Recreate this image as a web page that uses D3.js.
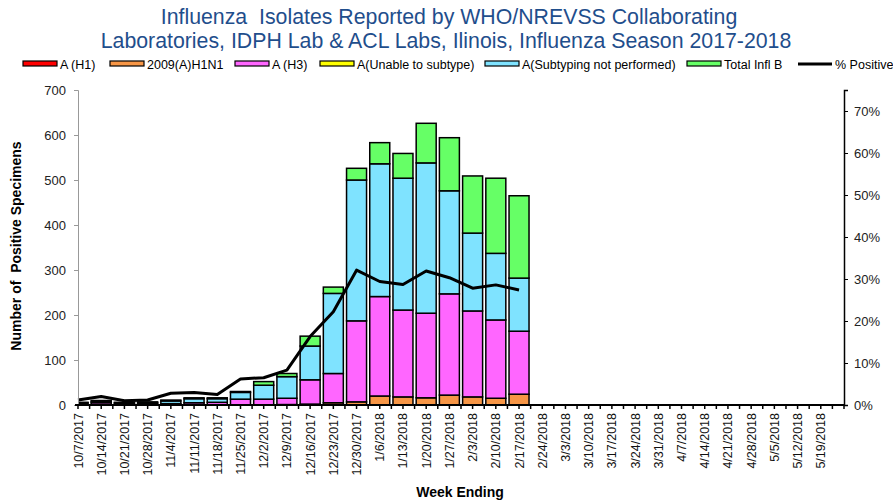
<!DOCTYPE html>
<html>
<head>
<meta charset="utf-8">
<script src="https://cdn.jsdelivr.net/npm/d3@7"></script>
<style>
  body { margin: 0; background: #fff; }
  text { font-family: "Liberation Sans", Arial, sans-serif; white-space: pre; }
</style>
</head>
<body>
<div id="chart"></div>
<script>
// week ending labels
var weeks = ["10/7/2017","10/14/2017","10/21/2017","10/28/2017","11/4/2017","11/11/2017","11/18/2017",
  "11/25/2017","12/2/2017","12/9/2017","12/16/2017","12/23/2017","12/30/2017","1/6/2018","1/13/2018",
  "1/20/2018","1/27/2018","2/3/2018","2/10/2018","2/17/2018","2/24/2018","3/3/2018","3/10/2018",
  "3/17/2018","3/24/2018","3/31/2018","4/7/2018","4/14/2018","4/21/2018","4/28/2018","5/5/2018",
  "5/12/2018","5/19/2018"];

// counts per week (only weeks reported so far)
var aH1       = [0,0,0,0,0,0,0,0,0,0,0,0,0,0,0,0,0,0,0,0];
var h1n1      = [0,0,0,0,0,0,0,0,0,1,2,5,7,20,18,16,22,18,15,24];
var aH3       = [2,5,2,2,3,5,6,13,13,14,54,65,180,221,193,188,225,191,174,140];
var unable    = [0,0,0,0,0,0,0,0,0,0,0,0,0,0,0,0,0,0,0,0];
var notPerf   = [3,3,3,3,6,9,8,15,31,48,75,178,313,295,293,334,229,173,148,118];
var inflB     = [1,2,1,2,2,2,2,2,8,7,22,14,26,47,55,88,118,127,167,183];
var pctPos    = [1.2,2.0,1.0,1.2,2.8,3.0,2.5,6.2,6.5,8.3,16.3,22.2,32.1,29.4,28.7,31.9,30.3,27.8,28.6,27.4];

var seriesNames  = ["A (H1)","2009(A)H1N1","A (H3)","A(Unable to subtype)","A(Subtyping not performed)","Total Infl B"];
var seriesColors = ["#ff0000","#f79646","#ff66ff","#ffff00","#7fe3ff","#66ff66"];
var seriesVals   = [aH1, h1n1, aH3, unable, notPerf, inflB];

var W = 893, H = 502;
var plotL = 78, plotR = 844, plotT = 90, plotB = 405;

var svg = d3.select("#chart").append("svg")
    .attr("width", W).attr("height", H);

// title
var title = svg.append("text")
    .attr("text-anchor", "middle")
    .attr("xml:space", "preserve")
    .style("font-size", "21.3px")
    .style("fill", "#1f4e8c");
title.append("tspan").attr("x", 449).attr("y", 24).text("Influenza  Isolates Reported by WHO/NREVSS Collaborating");
title.append("tspan").attr("x", 446).attr("y", 48).text("Laboratories, IDPH Lab & ACL Labs, Ilinois, Influenza Season 2017-2018");

// scales
var x = d3.scaleLinear().domain([0, weeks.length]).range([plotL, plotR]);
var y = d3.scaleLinear().domain([0, 700]).range([plotB, plotT]);
var y2 = d3.scaleLinear().domain([0, 75]).range([plotB, plotT]);

// stack the data
var rows = pctPos.map(function(p, i) {
  var r = {i: i};
  seriesNames.forEach(function(n, k) { r[n] = seriesVals[k][i]; });
  return r;
});
var stacked = d3.stack().keys(seriesNames)(rows);

svg.append("clipPath").attr("id", "plotclip")
  .append("rect").attr("x", plotL).attr("y", 0).attr("width", plotR - plotL).attr("height", plotB + 1);

var barW = 20;
var bars = svg.append("g").attr("clip-path", "url(#plotclip)");
stacked.forEach(function(layer, k) {
  bars.selectAll(null)
    .data(layer.filter(function(d) { return d[1] > d[0]; }))
    .enter().append("rect")
      .attr("x", function(d) { return x(d.data.i) - barW / 2; })
      .attr("y", function(d) { return y(d[1]); })
      .attr("width", barW)
      .attr("height", function(d) { return y(d[0]) - y(d[1]); })
      .style("fill", seriesColors[k])
      .style("stroke", "#000")
      .style("stroke-width", 1.5);
});

// % positive line
var line = d3.line()
    .x(function(d, i) { return x(i); })
    .y(function(d) { return y2(d); });
svg.append("path")
    .datum(pctPos)
    .attr("d", line)
    .style("fill", "none")
    .style("stroke", "#000")
    .style("stroke-width", 3)
    .style("stroke-linejoin", "round");

// left axis
var yAxis = svg.append("g")
    .attr("transform", "translate(" + plotL + ",0)")
    .call(d3.axisLeft(y).tickValues(d3.range(0, 701, 100)).tickSize(4).tickPadding(8));
yAxis.select(".domain").attr("stroke", "#999");
yAxis.selectAll(".tick line").attr("stroke", "#999");
yAxis.selectAll("text").style("font-size", "13px").style("fill", "#222").attr("font-family", null);

// right axis
var y2Axis = svg.append("g")
    .attr("transform", "translate(" + plotR + ",0)")
    .call(d3.axisRight(y2).tickValues(d3.range(0, 71, 10)).tickSize(4).tickPadding(6)
      .tickFormat(function(d) { return d + "%"; }));
y2Axis.select(".domain").attr("stroke", "#000").attr("stroke-width", 1.5);
y2Axis.selectAll("text").style("font-size", "13px").style("fill", "#222").attr("font-family", null);

// x axis: ticks every half week, labels at each week
var xAxis = svg.append("g").attr("transform", "translate(0," + plotB + ")");
xAxis.append("line").attr("x1", plotL - 3).attr("x2", plotR).attr("y1", 0).attr("y2", 0)
    .attr("stroke", "#000").attr("stroke-width", 2);
xAxis.selectAll(".xt")
    .data(d3.range(0, weeks.length + 0.01, 0.5))
    .enter().append("line")
      .attr("x1", function(d) { return x(d); }).attr("x2", function(d) { return x(d); })
      .attr("y1", 0).attr("y2", 4)
      .attr("stroke", "#000").attr("stroke-width", 1.5);
xAxis.selectAll(".xl")
    .data(weeks)
    .enter().append("text")
      .attr("transform", function(d, i) { return "translate(" + (x(i) + 4.5) + ",8) rotate(-90)"; })
      .attr("text-anchor", "end")
      .style("font-size", "12.5px")
      .style("fill", "#111")
      .text(function(d) { return d; });

// axis titles
svg.append("text")
    .attr("text-anchor", "middle")
    .attr("xml:space", "preserve")
    .attr("transform", "translate(21,246) rotate(-90)")
    .style("font-size", "14px").style("font-weight", "bold")
    .text("Number of  Positive Specimens");
svg.append("text")
    .attr("x", 460).attr("y", 497)
    .attr("text-anchor", "middle")
    .style("font-size", "14px").style("font-weight", "bold")
    .text("Week Ending");

// legend
var legendX = [23, 110, 235, 320, 485, 687, 798];
var legend = svg.append("g").attr("transform", "translate(0,64)");
seriesNames.forEach(function(n, k) {
  legend.append("rect")
    .attr("x", legendX[k]).attr("y", -3).attr("width", 34).attr("height", 5)
    .style("fill", seriesColors[k]).style("stroke", "#000").style("stroke-width", 1.2);
  legend.append("text")
    .attr("x", legendX[k] + 37).attr("y", 4.5)
    .style("font-size", "12.5px")
    .text(n);
});
legend.append("line")
  .attr("x1", legendX[6]).attr("x2", legendX[6] + 34).attr("y1", 0).attr("y2", 0)
  .attr("stroke", "#000").attr("stroke-width", 3);
legend.append("text")
  .attr("x", legendX[6] + 37).attr("y", 4.5)
  .style("font-size", "12.5px")
  .text("% Positive");
</script>
</body>
</html>
